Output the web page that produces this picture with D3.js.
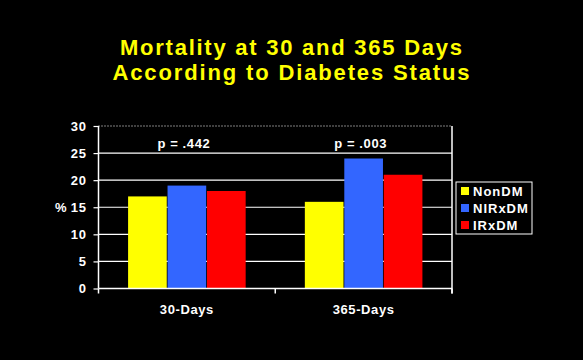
<!DOCTYPE html>
<html><head><meta charset="utf-8">
<script src="https://cdn.jsdelivr.net/npm/d3@7"></script>
<style>body{margin:0;background:#000;}svg{display:block;}</style>
</head><body>
<script>
const categories = ["30-Days", "365-Days"];
const seriesNames = ["NonDM", "NIRxDM", "IRxDM"];
const nonDM = [17, 16];
const nirxDM = [19, 24];
const irxDM = [18, 21];
const pLabels = ["p = .442", "p = .003"];
const yTicks = [0, 5, 10, 15, 20, 25, 30];
const colors = ["#ffff00", "#3366ff", "#ff0000"];
const titleLines = ["Mortality at 30 and 365 Days", "According to Diabetes Status"];

(function () {
const W = 583, H = 360;
const svg = d3.select("body").append("svg").attr("width", W).attr("height", H).style("background", "#000");
const font = "'Liberation Sans', Arial, sans-serif";
const ls = "0.6px";
const fs = 13;

const pL = 98.5, pR = 452, pT = 126, pB = 288.5;
const x0 = d3.scaleBand().domain(categories).range([pL, pR]).paddingInner(0).paddingOuter(0);
const x1 = d3.scaleBand().domain(seriesNames).range([0, x0.bandwidth()]).paddingOuter(0.75).paddingInner(0.02);
const y = d3.scaleLinear().domain([0, 30]).range([pB, pT]);

// title
svg.selectAll("text.title").data(titleLines).join("text").attr("class", "title")
  .attr("x", 291).attr("y", (d, i) => 55 + i * 25)
  .attr("text-anchor", "middle").attr("fill", "#ffff00")
  .attr("font-family", font).attr("font-weight", "bold").attr("font-size", 22)
  .attr("textLength", (d, i) => i === 0 ? 342 : 357).attr("lengthAdjust", "spacing")
  .text(d => d);

// gridlines
svg.selectAll("line.grid").data(yTicks.filter(t => t > 0)).join("line").attr("class", "grid")
  .attr("x1", pL).attr("x2", pR).attr("y1", d => y(d)).attr("y2", d => y(d))
  .attr("stroke", "#fff").attr("stroke-width", 1.2)
  .attr("stroke-dasharray", d => d === 30 ? "1,2" : null);

// right border
svg.append("line").attr("x1", pR).attr("x2", pR).attr("y1", pT).attr("y2", pB + 5)
  .attr("stroke", "#fff").attr("stroke-width", 1.5);

// bars
const data = categories.map((c, i) => ({c, vals: [nonDM[i], nirxDM[i], irxDM[i]]}));
const g = svg.selectAll("g.grp").data(data).join("g").attr("class", "grp")
  .attr("transform", d => `translate(${x0(d.c)},0)`);
g.selectAll("rect").data(d => d.vals.map((v, j) => ({v, s: seriesNames[j], j})))
  .join("rect")
  .attr("x", d => x1(d.s)).attr("width", x1.bandwidth())
  .attr("y", d => y(d.v)).attr("height", d => pB - y(d.v))
  .attr("fill", d => colors[d.j]);

// p labels
svg.selectAll("text.p").data(pLabels).join("text").attr("class", "p")
  .attr("x", (d, i) => x0(categories[i]) + x0.bandwidth() / 2 - 3).attr("y", 148)
  .attr("text-anchor", "middle").attr("fill", "#fff")
  .attr("font-family", font).attr("font-weight", "bold").attr("font-size", fs)
  .style("letter-spacing", ls)
  .text(d => d);

// y axis
const yAxis = svg.append("g").attr("transform", `translate(${pL},0)`)
  .call(d3.axisLeft(y).tickValues(yTicks).tickSize(5).tickPadding(7));
yAxis.select(".domain").attr("stroke", "#fff").attr("stroke-width", 1.5).attr("d", `M0,${pT}V${pB}`);
yAxis.selectAll(".tick line").attr("stroke", "#fff").attr("stroke-width", 1.2);
yAxis.selectAll(".tick text").attr("fill", "#fff").attr("font-family", font)
  .attr("font-weight", "bold").attr("font-size", fs).style("letter-spacing", ls);

svg.append("text").attr("x", 55).attr("y", 212).attr("fill", "#fff")
  .attr("font-family", font).attr("font-weight", "bold").attr("font-size", fs).text("%");

// x axis
const xAxis = svg.append("g").attr("transform", `translate(0,${pB})`)
  .call(d3.axisBottom(x0).tickSize(0).tickPadding(16));
xAxis.select(".domain").attr("stroke", "#fff").attr("stroke-width", 1.5).attr("d", `M${pL},0H${pR}`);
xAxis.selectAll(".tick text").attr("fill", "#fff").attr("font-family", font)
  .attr("font-weight", "bold").attr("font-size", fs).style("letter-spacing", ls);
const edges = [pL, pR, ...categories.slice(1).map(c => x0(c))];
xAxis.selectAll("line.edge").data(edges).join("line").attr("class", "edge")
  .attr("x1", d => d).attr("x2", d => d).attr("y1", 0).attr("y2", 5)
  .attr("stroke", "#fff").attr("stroke-width", 1.5);

// legend
const lg = svg.append("g").attr("transform", "translate(456,182)");
lg.append("rect").attr("width", 76).attr("height", 52).attr("fill", "#000")
  .attr("stroke", "#fff").attr("stroke-width", 1);
const li = lg.selectAll("g.li").data(seriesNames).join("g").attr("class", "li")
  .attr("transform", (d, i) => `translate(5,${9 + i * 17})`);
li.append("rect").attr("x", 0).attr("y", -4).attr("width", 8).attr("height", 8)
  .attr("fill", (d, i) => colors[i]);
li.append("text").attr("x", 12).attr("y", 5).attr("fill", "#fff")
  .attr("font-family", font).attr("font-weight", "bold").attr("font-size", fs)
  .style("letter-spacing", "1px").text(d => d);
})();
</script>
</body></html>
